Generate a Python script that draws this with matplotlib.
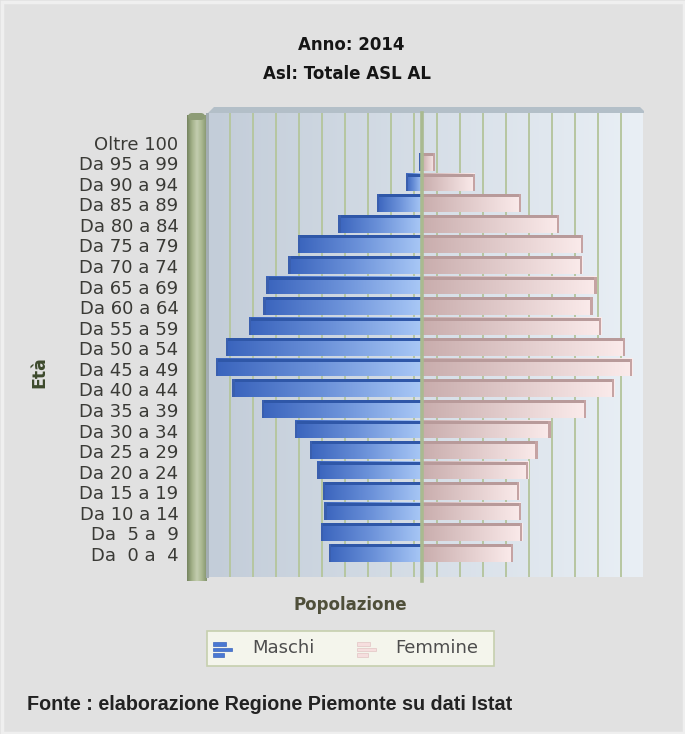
import numpy as np
import matplotlib
matplotlib.use("Agg")
import matplotlib.pyplot as plt
from matplotlib.colors import LinearSegmentedColormap
from matplotlib.patches import Rectangle, Polygon, FancyBboxPatch

# ---------------- data (bottom -> top) ----------------
age_labels = ["Da  0 a  4", "Da  5 a  9", "Da 10 a 14", "Da 15 a 19", "Da 20 a 24",
              "Da 25 a 29", "Da 30 a 34", "Da 35 a 39", "Da 40 a 44", "Da 45 a 49",
              "Da 50 a 54", "Da 55 a 59", "Da 60 a 64", "Da 65 a 69", "Da 70 a 74",
              "Da 75 a 79", "Da 80 a 84", "Da 85 a 89", "Da 90 a 94", "Da 95 a 99",
              "Oltre 100"]
maschi = [8100, 8800, 8500, 8650, 9100, 9750, 11050, 13950, 16500, 17950,
          17050, 15050, 13800, 13550, 11650, 10800, 7300, 3940, 1400, 250, 20]
femmine = [7900, 8700, 8600, 8450, 9250, 10050, 11200, 14250, 16700, 18300,
           17650, 15600, 14850, 15200, 13950, 14000, 11900, 8600, 4600, 1130, 80]
grid_values = list(range(-17000, 17001, 2000))

title1 = "Anno: 2014"
title2 = "Asl: Totale ASL AL"
xlabel = "Popolazione"
ylabel = "Età"
legend_labels = ["Maschi", "Femmine"]
footer = "Fonte : elaborazione Regione Piemonte su dati Istat"

# ---------------- figure ----------------
W, H = 685, 734
fig = plt.figure(figsize=(W / 100, H / 100), dpi=100)
fig.patch.set_facecolor("#e1e1e1")

def fx(x):
    return x / W

def fy(y):
    return 1 - y / H

# light outer frame
fig.patches.append(Rectangle((fx(1.5), fy(732.5)), fx(682), 731 / H, transform=fig.transFigure,
                             facecolor="none", edgecolor="#efefef", lw=2.5, zorder=10))

# top band of 3D box
fig.patches.append(Polygon([(fx(208), fy(113)), (fx(214), fy(107)), (fx(640), fy(107)),
                            (fx(644), fy(111)), (fx(644), fy(113))],
                           closed=True, transform=fig.transFigure,
                           facecolor="#b3bfc8", edgecolor="none", zorder=1))

# left wall (green)
wall = fig.add_axes([fx(187), fy(581), fx(206) - fx(187), (581 - 115) / H], zorder=2)
wall_cmap = LinearSegmentedColormap.from_list("wall", ["#75845f", "#a3b189", "#c3cdaf", "#a9b78f", "#84946e"])
wall.imshow(np.linspace(0, 1, 64)[None, :], aspect="auto", cmap=wall_cmap, extent=[0, 1, 0, 1],
            interpolation="bilinear")
wall.set_axis_off()
fig.patches.append(FancyBboxPatch((fx(188), fy(120)), fx(205) - fx(188), 7 / H,
                                  boxstyle="round,pad=0,rounding_size=0.006",
                                  transform=fig.transFigure, facecolor="#8d9c76",
                                  edgecolor="none", zorder=3))
fig.patches.append(Rectangle((fx(205.5), fy(578)), fx(3), (578 - 113) / H, transform=fig.transFigure,
                             facecolor="#a3adb2", edgecolor="none", zorder=3))

# main axes
ax = fig.add_axes([fx(209), fy(577), fx(643) - fx(209), (577 - 113) / H], zorder=2)
xmin, xmax = -18520, 19220
ymin, ymax = -1.118, 21.44

panel_cmap = LinearSegmentedColormap.from_list("panel", ["#c3cdd9", "#d6dee7", "#e9eff5"])
ax.imshow(np.linspace(0, 1, 128)[None, :], aspect="auto", cmap=panel_cmap,
          extent=[xmin, xmax, ymin, ymax], zorder=0, interpolation="bilinear")

depth = 300
for g in grid_values:
    ax.plot([g + depth, g + depth], [ymin, ymax], color="#b6c6a0", lw=1.4, zorder=1,
            solid_capstyle="butt")

male_cmap = LinearSegmentedColormap.from_list("m", ["#3a64bd", "#6d93da", "#a9c8f6"])
fem_cmap = LinearSegmentedColormap.from_list("f", ["#c9adad", "#e2cccc", "#fbebeb"])
grad = np.linspace(0, 1, 128)[None, :]
bh = 0.86
for i, (m, f) in enumerate(zip(maschi, femmine)):
    y0 = i - bh / 2 + 0.06
    y1 = y0 + bh
    # male
    ax.imshow(grad, aspect="auto", cmap=male_cmap, extent=[-m, 0, y0, y1], zorder=3,
              interpolation="bilinear")
    ax.add_patch(Rectangle((-m, y1 - 0.15), m, 0.15, facecolor="#2f57a8", edgecolor="none", zorder=4))
    ax.add_patch(Rectangle((-m, y0), min(220, m), bh, facecolor="#3a5fae", edgecolor="none", zorder=4))
    # female
    ax.imshow(grad, aspect="auto", cmap=fem_cmap, extent=[0, f, y0, y1], zorder=3,
              interpolation="bilinear")
    ax.add_patch(Rectangle((0, y1 - 0.15), f, 0.15, facecolor="#b89a9a", edgecolor="none", zorder=4))
    ax.add_patch(Rectangle((f - min(200, f), y0), min(200, f), bh, facecolor="#c5a3a3",
                           edgecolor="none", zorder=4))

# centre axis line
ax.plot([0, 0], [ymin - 0.2, ymax], color="#a9ba90", lw=2.6, zorder=5, clip_on=False)

ax.set_xlim(xmin, xmax)
ax.set_ylim(ymin, ymax)
ax.set_xticks([])
ax.set_yticks(range(len(age_labels)))
ax.set_yticklabels(age_labels, fontsize=13, color="#3a3a36", family="DejaVu Sans")
ax.tick_params(axis="y", length=0, pad=22)
for s in ax.spines.values():
    s.set_visible(False)

# texts
fig.text(fx(351), fy(45), title1, ha="center", va="center", fontsize=12, fontweight="bold", color="#151515")
fig.text(fx(347), fy(74), title2, ha="center", va="center", fontsize=12, fontweight="bold", color="#151515")
fig.text(fx(39), fy(372), ylabel, ha="center", va="center", rotation=90, fontsize=12.5,
         fontweight="bold", color="#3d4a2c")
fig.text(fx(350), fy(605), xlabel, ha="center", va="center", fontsize=12, fontweight="bold", color="#4f4f3a")

# legend
fig.patches.append(Rectangle((fx(207), fy(666)), fx(494) - fx(207), 35 / H, transform=fig.transFigure,
                             facecolor="#f4f5ec", edgecolor="#c6cfae", lw=1.2, zorder=3))
def icon(x0, color, edge):
    for (yy, ln) in [(642, 13), (647.5, 19), (653, 11)]:
        fig.patches.append(Rectangle((fx(x0), fy(yy + 3.5)), ln / W, 3.5 / H, transform=fig.transFigure,
                                     facecolor=color, edgecolor=edge, lw=0.5, zorder=4))
icon(213, "#4a78d2", "#3d66bd")
icon(357, "#f6dede", "#e2c4c4")
fig.text(fx(252), fy(648), legend_labels[0], ha="left", va="center", fontsize=13, color="#4d4d4d")
fig.text(fx(395), fy(648), legend_labels[1], ha="left", va="center", fontsize=13, color="#4d4d4d")

fig.text(fx(27), fy(705), footer, ha="left", va="center", fontsize=14.2, fontweight="bold",
         color="#222222", family=["Liberation Sans", "DejaVu Sans"])

fig.savefig("out.png", dpi=100, facecolor=fig.get_facecolor())
